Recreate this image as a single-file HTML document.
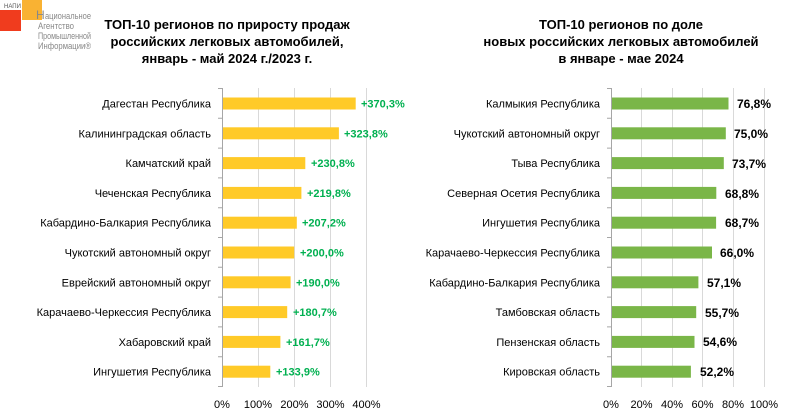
<!DOCTYPE html>
<html><head><meta charset="utf-8"><style>
body{margin:0;width:801px;height:415px;background:#fff;overflow:hidden;font-family:"Liberation Sans",sans-serif}
</style></head><body>
<svg width="801" height="415" xmlns="http://www.w3.org/2000/svg" font-family="Liberation Sans, sans-serif">
<rect x="0" y="10" width="21" height="21" fill="#F03C1E"/>
<rect x="22" y="0" width="20" height="20" fill="#F9B233"/>
<text x="4" y="8" font-size="6" fill="#555">НАПИ</text>
<text x="36" y="19" font-size="12" fill="#888">Н</text>
<text x="45" y="19" font-size="9" fill="#888" textLength="46" lengthAdjust="spacingAndGlyphs">ациональное</text>
<text x="38" y="29" font-size="9" fill="#888" textLength="36" lengthAdjust="spacingAndGlyphs">Агентство</text>
<text x="38" y="39" font-size="9" fill="#888" textLength="53" lengthAdjust="spacingAndGlyphs">Промышленной</text>
<text x="38" y="49" font-size="9" fill="#888" textLength="53" lengthAdjust="spacingAndGlyphs">Информации®</text>
<g font-size="13" font-weight="bold" text-anchor="middle" fill="#000">
<text x="227" y="29">ТОП-10 регионов по приросту продаж</text>
<text x="227" y="46">российских легковых автомобилей,</text>
<text x="227" y="63">январь - май 2024 г./2023 г.</text>
<text x="621" y="29">ТОП-10 регионов по доле</text>
<text x="621" y="46">новых российских легковых автомобилей</text>
<text x="621" y="63">в январе - мае 2024</text>
</g>
<g stroke="#D9D9D9" stroke-width="1">
<line x1="258.5" y1="88" x2="258.5" y2="387"/><line x1="294.5" y1="88" x2="294.5" y2="387"/><line x1="330.5" y1="88" x2="330.5" y2="387"/><line x1="366.5" y1="88" x2="366.5" y2="387"/>
<line x1="641.5" y1="88" x2="641.5" y2="387"/><line x1="672.5" y1="88" x2="672.5" y2="387"/><line x1="702.5" y1="88" x2="702.5" y2="387"/><line x1="733.5" y1="88" x2="733.5" y2="387"/><line x1="764.5" y1="88" x2="764.5" y2="387"/>
</g>
<g font-size="11">
<g fill="#FFCA28">
<rect x="222" y="97.5" width="133.7" height="12"/><rect x="222" y="127.3" width="116.9" height="12"/><rect x="222" y="157.1" width="83.3" height="12"/><rect x="222" y="186.9" width="79.4" height="12"/><rect x="222" y="216.7" width="74.8" height="12"/><rect x="222" y="246.5" width="72.2" height="12"/><rect x="222" y="276.3" width="68.6" height="12"/><rect x="222" y="306.1" width="65.2" height="12"/><rect x="222" y="335.9" width="58.4" height="12"/><rect x="222" y="365.7" width="48.3" height="12"/>
</g>
<g text-anchor="end" fill="#000">
<text x="211" y="107.5">Дагестан Республика</text><text x="211" y="137.3">Калининградская область</text><text x="211" y="167.1">Камчатский край</text><text x="211" y="196.9">Чеченская Республика</text><text x="211" y="226.7">Кабардино-Балкария Республика</text><text x="211" y="256.5">Чукотский автономный округ</text><text x="211" y="286.3">Еврейский автономный округ</text><text x="211" y="316.1">Карачаево-Черкессия Республика</text><text x="211" y="345.9">Хабаровский край</text><text x="211" y="375.7">Ингушетия Республика</text>
</g>
<g fill="#00B050" font-weight="bold">
<text x="361" y="107.5">+370,3%</text><text x="344" y="137.3">+323,8%</text><text x="311" y="167.1">+230,8%</text><text x="307" y="196.9">+219,8%</text><text x="302" y="226.7">+207,2%</text><text x="300" y="256.5">+200,0%</text><text x="296" y="286.3">+190,0%</text><text x="293" y="316.1">+180,7%</text><text x="286" y="345.9">+161,7%</text><text x="276" y="375.7">+133,9%</text>
</g>
</g>
<g fill="#7AB648">
<rect x="611" y="97.5" width="117.5" height="12"/><rect x="611" y="127.3" width="114.8" height="12"/><rect x="611" y="157.1" width="112.8" height="12"/><rect x="611" y="186.9" width="105.3" height="12"/><rect x="611" y="216.7" width="105.1" height="12"/><rect x="611" y="246.5" width="101" height="12"/><rect x="611" y="276.3" width="87.4" height="12"/><rect x="611" y="306.1" width="85.2" height="12"/><rect x="611" y="335.9" width="83.5" height="12"/><rect x="611" y="365.7" width="79.9" height="12"/>
</g>
<g font-size="11" text-anchor="end" fill="#000">
<text x="600" y="107.5">Калмыкия Республика</text><text x="600" y="137.3">Чукотский автономный округ</text><text x="600" y="167.1">Тыва Республика</text><text x="600" y="196.9">Северная Осетия Республика</text><text x="600" y="226.7">Ингушетия Республика</text><text x="600" y="256.5">Карачаево-Черкессия Республика</text><text x="600" y="286.3">Кабардино-Балкария Республика</text><text x="600" y="316.1">Тамбовская область</text><text x="600" y="345.9">Пензенская область</text><text x="600" y="375.7">Кировская область</text>
</g>
<g font-size="12" font-weight="bold" fill="#000">
<text x="737" y="108">76,8%</text><text x="734" y="138">75,0%</text><text x="732" y="168">73,7%</text><text x="725" y="198">68,8%</text><text x="725" y="227">68,7%</text><text x="720" y="257">66,0%</text><text x="707" y="287">57,1%</text><text x="705" y="317">55,7%</text><text x="703" y="346">54,6%</text><text x="700" y="376">52,2%</text>
</g>
<g stroke="#A6A6A6" stroke-width="1">
<line x1="222.5" y1="88" x2="222.5" y2="387"/>
<line x1="611.5" y1="88" x2="611.5" y2="387"/>
<path d="M218 88.5h4M218 118.3h4M218 148.1h4M218 177.9h4M218 207.7h4M218 237.5h4M218 267.3h4M218 297.1h4M218 326.9h4M218 356.7h4M218 386.5h4"/>
<path d="M607 88.5h4M607 118.3h4M607 148.1h4M607 177.9h4M607 207.7h4M607 237.5h4M607 267.3h4M607 297.1h4M607 326.9h4M607 356.7h4M607 386.5h4"/>
</g>
<g font-size="11" text-anchor="middle" fill="#000">
<text x="222" y="408">0%</text><text x="258" y="408">100%</text><text x="294.5" y="408">200%</text><text x="330.5" y="408">300%</text><text x="366.5" y="408">400%</text>
<text x="611" y="408">0%</text><text x="641.5" y="408">20%</text><text x="672" y="408">40%</text><text x="702.5" y="408">60%</text><text x="733" y="408">80%</text><text x="764" y="408">100%</text>
</g>
</svg>
</body></html>
